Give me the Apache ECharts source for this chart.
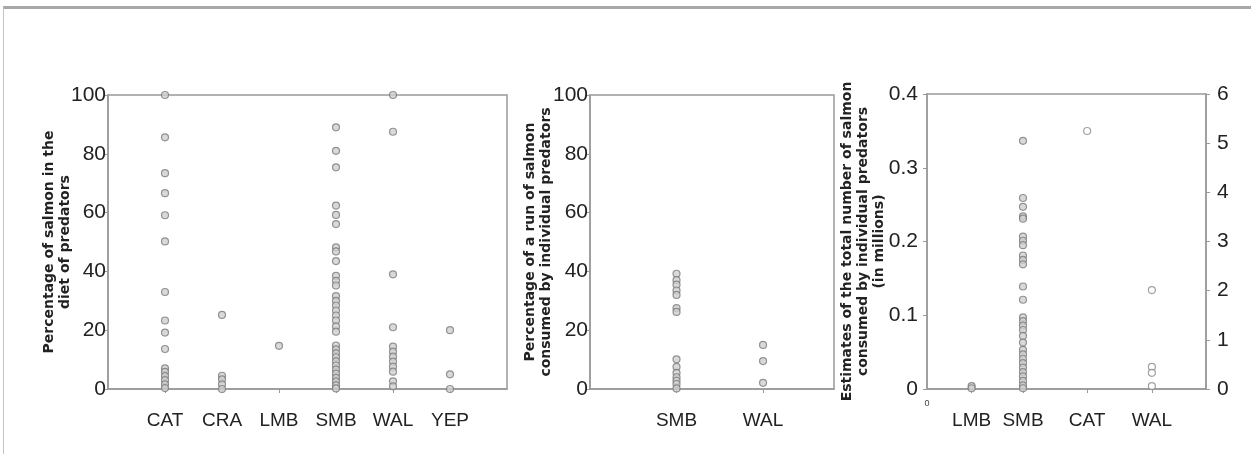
<!DOCTYPE html>
<html><head><meta charset="utf-8">
<script src="https://cdn.jsdelivr.net/npm/echarts@6/dist/echarts.min.js"></script>
<style>
html,body{margin:0;padding:0;background:#fff;}
#frame{position:absolute;left:3px;top:6px;width:1248px;height:448px;border-top:3px solid #a8a8a8;border-left:1px solid #c4c4c4;box-sizing:border-box;}
#chart{position:absolute;left:0;top:0;width:1251px;height:454px;}
</style></head><body>
<div id="frame"></div><div id="chart"></div>
<script>
// ---- Panel 1: percentage of salmon in the diet of predators ----
const p1Categories = ['CAT', 'CRA', 'LMB', 'SMB', 'WAL', 'YEP'];
const p1CAT = [100, 85.6, 73.4, 66.6, 59.1, 50.2, 33, 23.3, 19.2, 13.6, 7, 5.8, 4.4, 3, 1.6, 0.3];
const p1CRA = [25.2, 4.5, 3.3, 1.6, 0];
const p1LMB = [14.7];
const p1SMB = [89, 81, 75.4, 62.4, 59.2, 56.1, 48.2, 46.8, 43.5, 38.5, 36.8, 35.2, 31.6, 30, 28.4, 26.7, 25, 23.3, 21.3, 19.5, 14.8, 13.5, 12.1, 10.8, 9.4, 8, 6.6, 5.2, 3.8, 2.5, 1.2, 0.2];
const p1WAL = [100, 87.5, 39, 21, 14.4, 12.7, 11, 9.3, 7.6, 5.9, 2.6, 0.9];
const p1YEP = [20, 5, 0];
const p1Values = [p1CAT, p1CRA, p1LMB, p1SMB, p1WAL, p1YEP];
const p1Ticks = [0, 20, 40, 60, 80, 100];

// ---- Panel 2: percentage of a run of salmon consumed ----
const p2Categories = ['SMB', 'WAL'];
const p2SMB = [39.2, 37, 35.5, 33.5, 32, 27.5, 26.2, 10.1, 7.5, 5.5, 4, 2.8, 1.7, 0.2];
const p2WAL = [15, 9.5, 2.1];
const p2Values = [p2SMB, p2WAL];

// ---- Panel 3: estimated total number of salmon consumed (millions) ----
const p3Categories = ['LMB', 'SMB', 'CAT', 'WAL'];
const p3LMB = [0.004, 0.001];
const p3SMB = [0.3365, 0.259, 0.247, 0.234, 0.231, 0.2065, 0.201, 0.195, 0.181, 0.175, 0.169, 0.139, 0.121, 0.097, 0.092, 0.086, 0.08, 0.072, 0.063, 0.053, 0.047, 0.041, 0.035, 0.029, 0.023, 0.017, 0.011, 0.005, 0.001];
const p3CAT = [0.3498];
const p3WAL = [0.1342, 0.03, 0.022, 0.004];
const p3Values = [p3LMB, p3SMB, p3CAT, p3WAL];
const p3LeftTicks = [0, 0.1, 0.2, 0.3, 0.4];
const p3RightTicks = [0, 1, 2, 3, 4, 5, 6];

// layout (category slot positions along the x value axes)
const p1Slots = p1Categories.map((c, i) => i + 1);
const p2Slots = p2Categories.map((c, i) => i + 1);
const p3Slots = [0.8, 1.72, 2.87, 4.03];

const FONT = '"Liberation Sans", Arial, sans-serif';
const NAMEFONT = '"DejaVu Sans", "Liberation Sans", sans-serif';
const AX = '#999';
const TXT = '#222';

function pts(values, slots) {
  const out = [];
  values.forEach((arr, i) => arr.forEach(v => out.push([slots[i], v])));
  return out;
}

const gridBase = {show: true, borderColor: AX, borderWidth: 1.5, backgroundColor: 'transparent'};
const axLine = {show: true, lineStyle: {color: AX, width: 1.5}};
const tick = {show: true, length: 4, lineStyle: {color: AX, width: 1}};
const nameStyle = {fontWeight: 'bold', fontSize: 14, fontFamily: NAMEFONT, lineHeight: 16, color: TXT};

function yAx(grid, min, max, interval, name, gap, margin, extra) {
  return Object.assign({
    gridIndex: grid, type: 'value', min: min, max: max, interval: interval,
    name: name, nameLocation: 'middle', nameGap: gap, nameTextStyle: nameStyle,
    nameMoveOverlap: false,
    axisLine: axLine, axisTick: tick, splitLine: {show: false},
    axisLabel: {fontSize: 21, fontFamily: FONT, color: TXT, margin: margin}
  }, extra || {});
}

const option = {
  animation: false,
  backgroundColor: 'transparent',
  grid: [
    Object.assign({left: 108, top: 95, width: 399, height: 294}, gridBase),
    Object.assign({left: 590, top: 95, width: 244, height: 294}, gridBase),
    Object.assign({left: 927, top: 94, width: 279, height: 295}, gridBase)
  ],
  xAxis: [
    {gridIndex: 0, type: 'value', min: 0, max: 7, axisLine: axLine, splitLine: {show: false},
     axisTick: Object.assign({customValues: p1Slots}, tick),
     axisLabel: {customValues: p1Slots, formatter: v => p1Categories[Math.round(v) - 1] || '',
                 fontSize: 19, fontFamily: FONT, color: TXT, margin: 22}},
    {gridIndex: 1, type: 'value', min: 0, max: 2.82, axisLine: axLine, splitLine: {show: false},
     axisTick: Object.assign({customValues: p2Slots}, tick),
     axisLabel: {customValues: p2Slots, formatter: v => p2Categories[Math.round(v) - 1] || '',
                 fontSize: 19, fontFamily: FONT, color: TXT, margin: 22}},
    {gridIndex: 2, type: 'value', min: 0, max: 5, axisLine: axLine, splitLine: {show: false},
     axisTick: Object.assign({customValues: p3Slots}, tick),
     axisLabel: {customValues: [0].concat(p3Slots),
                 formatter: v => {
                   if (v === 0) return '{s|0}';
                   const i = p3Slots.indexOf(v);
                   return '{c|' + (i >= 0 ? p3Categories[i] : '') + '}';
                 },
                 fontFamily: FONT, color: TXT, margin: 10,
                 rich: {s: {fontSize: 9, fontFamily: FONT, color: '#444'},
                        c: {fontSize: 19, fontFamily: FONT, color: TXT, padding: [12, 0, 0, 0]}}}}
  ],
  yAxis: [
    yAx(0, 0, 100, 20, 'Percentage of salmon in the\ndiet of predators', 35, 2),
    yAx(1, 0, 100, 20, 'Percentage of a run of salmon\nconsumed by individual predators', 36, 2),
    yAx(2, 0, 0.4, 0.1, 'Estimates of the total number of salmon\nconsumed by individual predators\n(in millions)', 40, 9),
    yAx(2, 0, 6, 1, '', 0, 11, {position: 'right', name: ''})
  ],
  series: [
    {type: 'scatter', xAxisIndex: 0, yAxisIndex: 0, data: pts(p1Values, p1Slots)},
    {type: 'scatter', xAxisIndex: 1, yAxisIndex: 1, data: pts(p2Values, p2Slots)},
    {type: 'scatter', xAxisIndex: 2, yAxisIndex: 2, data: pts([p3LMB, p3SMB], p3Slots.slice(0, 2))},
    {type: 'scatter', xAxisIndex: 2, yAxisIndex: 2, data: pts([p3CAT, p3WAL], p3Slots.slice(2)),
     itemStyle: {color: '#ffffff', borderColor: '#8a8a8a', borderWidth: 1.2}}
  ].map(s => Object.assign({
    symbol: 'circle', symbolSize: 7, silent: true,
    itemStyle: {color: '#cfcfcf', borderColor: '#7a7a7a', borderWidth: 1.2}
  }, s))
};

const chart = echarts.init(document.getElementById('chart'), null, {renderer: 'canvas'});
chart.setOption(option);
</script></body></html>
